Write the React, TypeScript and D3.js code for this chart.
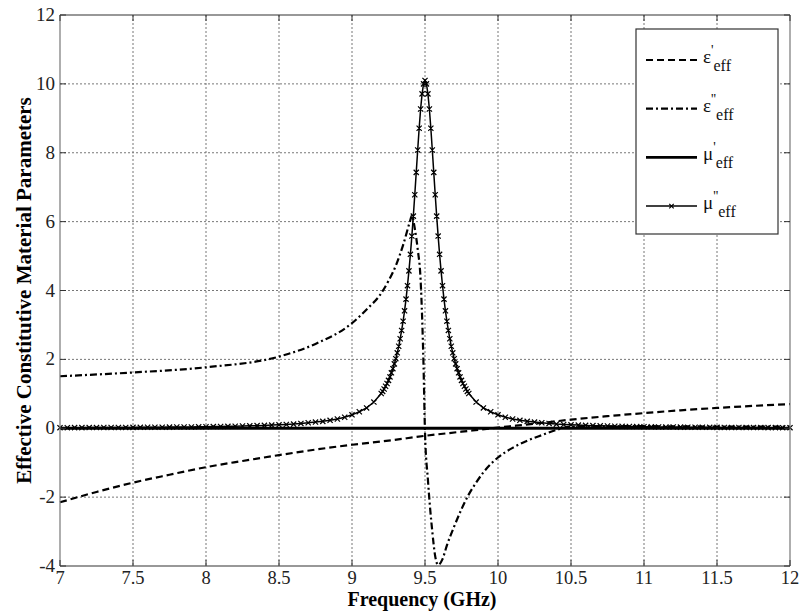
import React from "react";
import * as d3 from "d3";

// ---- data ----
const xTicks = [7, 7.5, 8, 8.5, 9, 9.5, 10, 10.5, 11, 11.5, 12];
const yTicks = [-4, -2, 0, 2, 4, 6, 8, 10, 12];

// ε'eff (dashed)
const epsReFreq = [7, 7.25, 7.5, 7.75, 8, 8.25, 8.5, 8.75, 9, 9.25, 9.5, 9.75, 10, 10.25, 10.5, 10.75, 11, 11.25, 11.5, 11.75, 12];
const epsReVal = [-2.15, -1.85, -1.58, -1.35, -1.13, -0.95, -0.78, -0.62, -0.48, -0.36, -0.22, -0.1, 0.02, 0.13, 0.25, 0.35, 0.44, 0.52, 0.59, 0.65, 0.7];

// ε''eff (dash-dot)
const epsImFreq = [7, 7.5, 8, 8.5, 8.75, 9, 9.1, 9.2, 9.25, 9.3, 9.35, 9.4, 9.41, 9.43, 9.45, 9.47, 9.49, 9.5, 9.52, 9.55, 9.57, 9.59, 9.62, 9.65, 9.7, 9.75, 9.8, 9.85, 9.9, 9.95, 10, 10.1, 10.2, 10.3, 10.4, 10.5, 11, 11.5, 12];
const epsImVal = [1.51, 1.62, 1.77, 2.08, 2.45, 3.05, 3.45, 3.92, 4.28, 4.72, 5.32, 6.05, 6.18, 5.8, 5.2, 4.3, 1.8, -0.12, -1.5, -3.0, -3.72, -3.97, -3.8, -3.4, -2.85, -2.35, -1.92, -1.58, -1.28, -1.04, -0.85, -0.57, -0.36, -0.2, -0.05, 0.05, 0.06, 0.05, 0.05];

// μ'eff (solid, thick)
const muReFreq = [7, 8, 9, 9.5, 10, 11, 12];
const muReVal = [0, 0, 0, 0, 0, 0, 0];

// μ''eff (solid with x markers)
const muImFreqLeft = d3.range(0, 45).map((i) => +(7 + i * 0.05).toFixed(2));
const muImFreqMid = d3.range(0, 59).map((i) => +(9.21 + i * 0.01).toFixed(2));
const muImFreqRight = d3.range(0, 45).map((i) => +(9.8 + i * 0.05).toFixed(2));
const muImValLeft = [
  0.016, 0.017, 0.018, 0.018, 0.019, 0.02, 0.021, 0.022, 0.023, 0.024, 0.025,
  0.027, 0.028, 0.029, 0.031, 0.033, 0.035, 0.037, 0.039, 0.042, 0.045,
  0.048, 0.051, 0.055, 0.059, 0.064, 0.07, 0.076, 0.083, 0.091, 0.1,
  0.11, 0.12, 0.14, 0.16, 0.18, 0.2, 0.23, 0.27, 0.32, 0.39,
  0.48, 0.59, 0.76, 1.01,
];
const muImValMid = [
  1.07, 1.14, 1.22, 1.3, 1.39, 1.49, 1.61, 1.73, 1.87, 2.02,
  2.19, 2.38, 2.6, 2.84, 3.11, 3.41, 3.75, 4.14, 4.57, 5.05,
  5.58, 6.16, 6.78, 7.43, 8.08, 8.71, 9.27, 9.71, 10.0,
  10.1,
  10.0, 9.71, 9.27, 8.71, 8.08, 7.43, 6.78, 6.16, 5.58,
  5.05, 4.57, 4.14, 3.75, 3.41, 3.11, 2.84, 2.6, 2.38, 2.19,
  2.02, 1.87, 1.73, 1.61, 1.49, 1.39, 1.3, 1.22, 1.14, 1.07,
];
const muImValRight = [
  1.01, 0.76, 0.59, 0.48,
  0.39, 0.32, 0.27, 0.23, 0.2, 0.18, 0.16, 0.14, 0.12, 0.11,
  0.1, 0.091, 0.083, 0.076, 0.07, 0.064, 0.059, 0.055, 0.051, 0.048,
  0.045, 0.042, 0.039, 0.037, 0.035, 0.033, 0.031, 0.029, 0.028, 0.027,
  0.025, 0.024, 0.023, 0.022, 0.021, 0.02, 0.019, 0.018, 0.018, 0.017, 0.016,
];
const muImFreq = [...muImFreqLeft, ...muImFreqMid, ...muImFreqRight];
const muImVal = [...muImValLeft, ...muImValMid, ...muImValRight];

const legendLabels = [
  { sym: "ε", prime: "'", dash: "7,4", width: 2.2, marker: false },
  { sym: "ε", prime: "''", dash: "7,3,2,3", width: 2.2, marker: false },
  { sym: "μ", prime: "'", dash: null, width: 2.8, marker: false },
  { sym: "μ", prime: "''", dash: null, width: 1.5, marker: true },
];

const W = 800;
const H = 616;
const M = { left: 60, right: 10, top: 15, bottom: 50 };
const FONT = "Liberation Serif, Times New Roman, serif";

export default function App() {
  const x = d3.scaleLinear().domain([7, 12]).range([M.left, W - M.right]);
  const y = d3.scaleLinear().domain([-4, 12]).range([H - M.bottom, M.top]);
  const x0 = x(7), x1 = x(12), y0 = y(-4), y1 = y(12);

  const line = d3.line<[number, number]>().x((d) => x(d[0])).y((d) => y(d[1]));
  const smooth = d3.line<[number, number]>().x((d) => x(d[0])).y((d) => y(d[1])).curve(d3.curveMonotoneX);
  const zip = (a: number[], b: number[]) => a.map((v, i) => [v, b[i]] as [number, number]);

  const epsRe = zip(epsReFreq, epsReVal);
  const epsIm = zip(epsImFreq, epsImVal);
  const muRe = zip(muReFreq, muReVal);
  const muIm = zip(muImFreq, muImVal);

  const mk = (cx: number, cy: number, s = 2.6) =>
    `M${cx - s},${cy - s}L${cx + s},${cy + s}M${cx - s},${cy + s}L${cx + s},${cy - s}`;

  const tickLen = 6;
  const legX = 636, legY = 29, legW = 142, legH = 205;

  return (
    <svg width={W} height={H} style={{ display: "block", position: "absolute", left: 0, top: 0, background: "#fff" }}>
      <rect x={0} y={0} width={W} height={H} fill="#fff" />
      {/* grid */}
      {xTicks.slice(1, -1).map((t) => (
        <line key={"gx" + t} x1={x(t)} x2={x(t)} y1={y1} y2={y0} stroke="#777" strokeWidth={1} strokeDasharray="2,2" />
      ))}
      {yTicks.slice(1, -1).map((t) => (
        <line key={"gy" + t} x1={x0} x2={x1} y1={y(t)} y2={y(t)} stroke="#777" strokeWidth={1} strokeDasharray="2,2" />
      ))}

      {/* curves */}
      <path d={smooth(epsRe) || ""} fill="none" stroke="#000" strokeWidth={2.2} strokeDasharray="7,4" />
      <path d={smooth(epsIm) || ""} fill="none" stroke="#000" strokeWidth={2.2} strokeDasharray="7,3,2,3" />
      <path d={line(muRe) || ""} fill="none" stroke="#000" strokeWidth={2.8} />
      <path d={line(muIm) || ""} fill="none" stroke="#000" strokeWidth={1.5} />
      <path d={muIm.map((p) => mk(x(p[0]), y(p[1]))).join("")} fill="none" stroke="#000" strokeWidth={1.2} />

      {/* axes box */}
      <line x1={x0} x2={x1} y1={y1} y2={y1} stroke="#333" strokeWidth={1.2} />
      <line x1={x0} x2={x1} y1={y0} y2={y0} stroke="#333" strokeWidth={1.2} />
      <line x1={x0} x2={x0} y1={y1} y2={y0} stroke="#777" strokeWidth={1.2} />
      <line x1={x1} x2={x1} y1={y1} y2={y0} stroke="#777" strokeWidth={1.2} />
      {xTicks.map((t) => (
        <g key={"tx" + t}>
          <line x1={x(t)} x2={x(t)} y1={y0} y2={y0 - tickLen} stroke="#333" />
          <line x1={x(t)} x2={x(t)} y1={y1} y2={y1 + tickLen} stroke="#333" />
          <text x={x(t)} y={y0 + 18} textAnchor="middle" fontFamily={FONT} fontSize={18.5} fill="#222">
            {String(t)}
          </text>
        </g>
      ))}
      {yTicks.map((t) => (
        <g key={"ty" + t}>
          <line x1={x0} x2={x0 + tickLen} y1={y(t)} y2={y(t)} stroke="#333" />
          <line x1={x1} x2={x1 - tickLen} y1={y(t)} y2={y(t)} stroke="#333" />
          <text x={x0 - 5} y={y(t) + 6} textAnchor="end" fontFamily={FONT} fontSize={19} fill="#222">
            {String(t)}
          </text>
        </g>
      ))}

      {/* axis labels */}
      <text x={(x0 + x1) / 2 - 3} y={H - 10} textAnchor="middle" fontFamily={FONT} fontSize={20} fontWeight="bold" fill="#000">
        Frequency (GHz)
      </text>
      <text
        transform={`translate(31,${(y0 + y1) / 2}) rotate(-90)`}
        textAnchor="middle"
        fontFamily={FONT}
        fontSize={21}
        fontWeight="bold"
        fill="#000"
      >
        Effective Constitutive Material Parameters
      </text>

      {/* legend */}
      <rect x={legX} y={legY} width={legW} height={legH} fill="#fff" stroke="#333" strokeWidth={1.2} />
      {legendLabels.map((l, i) => {
        const ly = 60 + i * 48.7;
        return (
          <g key={"lg" + i}>
            <line x1={646} x2={697} y1={ly} y2={ly} stroke="#000" strokeWidth={l.width} strokeDasharray={l.dash || undefined} />
            {l.marker && <path d={mk(671.5, ly, 2.2)} stroke="#000" strokeWidth={1.2} />}
            <text x={703} y={ly + 3} fontFamily={FONT} fontSize={19} fill="#111">
              {l.sym}
              <tspan fontSize={14} dy={-8}>{l.prime}</tspan>
              <tspan fontSize={16} dy={16}>eff</tspan>
            </text>
          </g>
        );
      })}
    </svg>
  );
}
